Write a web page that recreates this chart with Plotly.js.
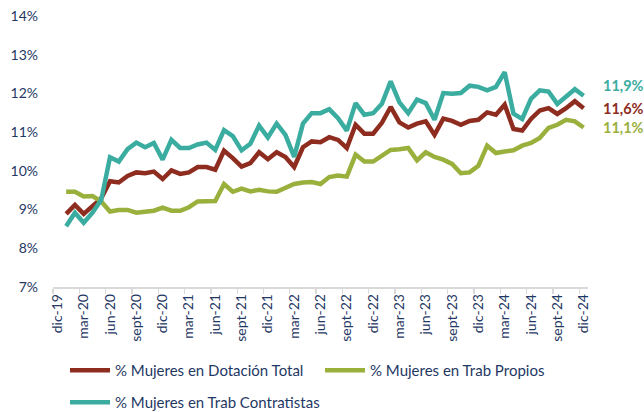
<!DOCTYPE html>
<html>
<head>
<meta charset="utf-8">
<script src="https://cdn.plot.ly/plotly-3.0.1.min.js"></script>
<style>html,body{margin:0;padding:0;background:#fff;}#chart{width:644px;height:412px;}</style>
</head>
<body>
<div id="chart"></div>
<script>
// Month categories (dic-19 .. dic-24)
const months = [
  "dic-19","ene-20","feb-20","mar-20","abr-20","may-20","jun-20","jul-20","ago-20","sept-20","oct-20","nov-20",
  "dic-20","ene-21","feb-21","mar-21","abr-21","may-21","jun-21","jul-21","ago-21","sept-21","oct-21","nov-21",
  "dic-21","ene-22","feb-22","mar-22","abr-22","may-22","jun-22","jul-22","ago-22","sept-22","oct-22","nov-22",
  "dic-22","ene-23","feb-23","mar-23","abr-23","may-23","jun-23","jul-23","ago-23","sept-23","oct-23","nov-23",
  "dic-23","ene-24","feb-24","mar-24","abr-24","may-24","jun-24","jul-24","ago-24","sept-24","oct-24","nov-24",
  "dic-24"
];
// Series values (%), ene-20 .. dic-24
const dotacionTotal = [
  8.89,9.12,8.89,9.10,9.29,9.73,9.70,9.87,9.96,9.94,9.98,9.79,10.01,9.92,9.96,10.10,
  10.10,10.03,10.52,10.33,10.11,10.20,10.48,10.30,10.48,10.36,10.10,10.61,10.76,10.74,10.87,
  10.80,10.59,11.19,10.96,10.96,11.24,11.65,11.25,11.12,11.22,11.28,10.93,11.35,11.29,
  11.19,11.29,11.32,11.51,11.45,11.71,11.08,11.04,11.34,11.56,11.62,11.47,11.62,11.80,11.62
];
const trabPropios = [
  9.46,9.46,9.34,9.35,9.21,8.95,8.99,8.99,8.92,8.95,8.97,9.05,8.97,8.97,9.06,9.21,
  9.21,9.22,9.66,9.46,9.54,9.47,9.51,9.47,9.46,9.57,9.66,9.70,9.71,9.66,9.84,
  9.88,9.85,10.42,10.24,10.24,10.39,10.54,10.56,10.59,10.27,10.48,10.36,10.29,10.18,
  9.94,9.96,10.13,10.65,10.46,10.50,10.53,10.65,10.72,10.85,11.11,11.19,11.32,11.28,11.12
];
const trabContratistas = [
  8.57,8.92,8.66,8.92,9.25,10.35,10.24,10.56,10.73,10.61,10.72,10.29,10.80,10.59,10.59,10.68,
  10.73,10.54,11.05,10.90,10.53,10.70,11.17,10.86,11.22,10.93,10.36,11.22,11.49,11.49,11.59,
  11.36,11.04,11.75,11.45,11.49,11.73,12.31,11.77,11.49,11.84,11.75,11.32,12.01,11.99,
  12.01,12.20,12.17,12.08,12.17,12.55,11.48,11.34,11.86,12.08,12.05,11.73,11.91,12.11,11.94
];
const seriesNames = ["% Mujeres en Dotación Total","% Mujeres en Trab Propios","% Mujeres en Trab Contratistas"];
const seriesColors = ["#8E2D1F","#9AB03C","#3AADA0"];
const yTicks = [7,8,9,10,11,12,13,14];

const xData = months.slice(1);
const seriesVals = [dotacionTotal, trabPropios, trabContratistas];
const legendIds = ["legend","legend2","legend3"];

const traces = seriesVals.map((vals, k) => ({
  type: "scatter", mode: "lines",
  x: xData, y: vals, name: seriesNames[k],
  line: {color: seriesColors[k], width: 4.5},
  legend: legendIds[k],
  hoverinfo: "skip"
}));

const fmt = v => v.toFixed(1).replace(".", ",") + "%";
const labelShift = [0, 0, 10];
const annotations = seriesVals.map((vals, k) => ({
  x: xData[xData.length - 1], y: vals[vals.length - 1],
  xref: "x", yref: "y",
  text: "<b>" + fmt(vals[vals.length - 1]) + "</b>",
  showarrow: false, xanchor: "left", yanchor: "middle",
  xshift: 17, yshift: labelShift[k],
  font: {family: "Lato, Carlito, sans-serif", size: 14.5, color: seriesColors[k]}
}));

const fontFam = "Lato, Carlito, sans-serif";
const navy = "#1F3864";

function legendBox(xpx, ypx) {
  return {
    orientation: "h", xref: "container", yref: "container",
    x: xpx/644, y: 1 - ypx/412, xanchor: "left", yanchor: "top",
    itemwidth: 40,
    font: {family: fontFam, size: 15, color: navy},
    bgcolor: "rgba(0,0,0,0)"
  };
}

const layout = {
  width: 644, height: 412,
  margin: {l: 53, r: 56, t: 16, b: 125, pad: 0},
  paper_bgcolor: "#fff", plot_bgcolor: "#fff",
  showlegend: true,
  font: {family: fontFam, color: navy, size: 14},
  xaxis: {
    type: "category", categoryorder: "array", categoryarray: months,
    range: [-0.5, months.length - 0.5],
    tickmode: "linear", tick0: 0, dtick: 3,
    tickson: "boundaries",
    ticks: "outside", ticklen: 5, tickcolor: "#D9D9D9", tickwidth: 1.3,
    showline: true, linecolor: "#D9D9D9", linewidth: 1.5,
    showgrid: false, zeroline: false,
    tickangle: -90, tickfont: {family: fontFam, size: 14, color: navy},
    fixedrange: true
  },
  yaxis: {
    range: [7, 14], tickmode: "array", tickvals: yTicks,
    ticktext: yTicks.map(v => v + "%"),
    showgrid: false, zeroline: false, showline: false, ticks: "",
    ticklabelstandoff: 14,
    tickfont: {family: fontFam, size: 14, color: navy},
    fixedrange: true
  },
  legend: legendBox(65, 354),
  legend2: legendBox(320, 354),
  legend3: legendBox(65, 386),
  annotations: annotations
};

Plotly.newPlot("chart", traces, layout, {staticPlot: true, displayModeBar: false});
</script>
</body>
</html>
